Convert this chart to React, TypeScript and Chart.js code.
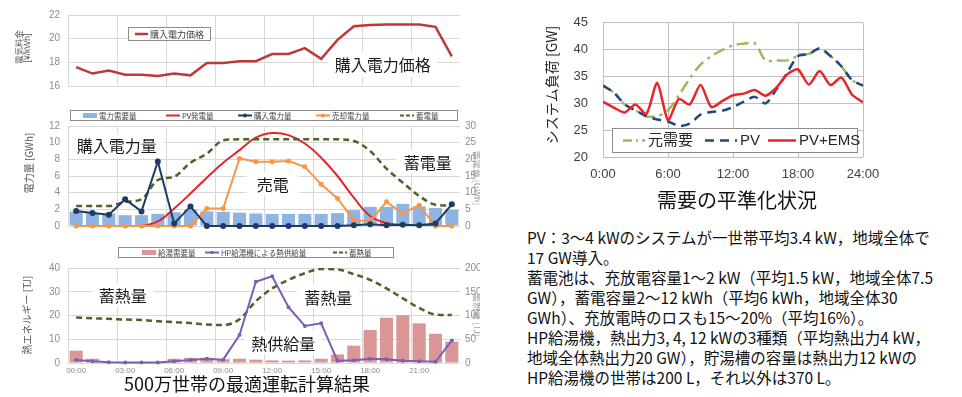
import { useEffect, useRef } from 'react';
import { Chart, registerables } from 'chart.js';
Chart.register(...registerables);

const LAT = "'Liberation Sans', Arial, 'Noto Sans CJK JP', sans-serif";
const JP = "'Noto Sans CJK JP', 'Noto Sans CJK SC', sans-serif";

// ---------- data ----------
const hours = ['00:00', '01:00', '02:00', '03:00', '04:00', '05:00', '06:00', '07:00', '08:00', '09:00', '10:00', '11:00',
  '12:00', '13:00', '14:00', '15:00', '16:00', '17:00', '18:00', '19:00', '20:00', '21:00', '22:00', '23:00'];

const priceValues = [17.6, 17.05, 17.3, 16.95, 16.95, 16.85, 17.05, 16.9, 17.95, 17.95, 18.1, 18.1, 18.7, 18.7, 19.2, 18.3, 19.9, 21.05, 21.15, 21.2, 21.2, 21.2, 21.0, 18.5];

const demandValues = [1.75, 1.6, 1.5, 1.3, 1.3, 1.45, 1.65, 1.95, 1.75, 1.7, 1.6, 1.5, 1.45, 1.45, 1.45, 1.45, 1.55, 1.9, 2.3, 2.3, 2.65, 2.35, 2.15, 1.95];
const pvValues = [0, 0, 0, 0, 0, 0.55, 2.1, 3.9, 5.8, 7.6, 9.1, 10.6, 11.15, 10.9, 9.9, 8.2, 6.0, 3.4, 1.2, 0.35, 0.1, 0, 0, 0];
const buyValues = [1.8, 1.55, 1.35, 3.2, 1.75, 7.75, 0.3, 2.35, 0, 0, 0, 0, 0, 0, 0, 0, 0, 0.1, 0.2, 0.1, 0.15, 0.1, 0.3, 2.6];
const sellValues = [0, 0, 0, 0, 0, 0, 0, 0, 2.1, 2.1, 8.1, 7.7, 7.7, 7.8, 7.1, 5.0, 3.3, 0.7, 0.6, 2.9, 1.5, 2.5, 0, 0];
const storageValues = [6, 6, 6, 7.2, 8, 13.8, 14.8, 19, 21.7, 25.7, 26, 26, 26, 26, 26, 26, 26, 25.5, 22.5, 17.2, 13, 9, 6.4, 6.1];

const hotWaterDemand = [5.2, 1.8, 0.3, 0.1, 0.1, 0.3, 1.8, 2.2, 2.2, 1.6, 1.8, 1.4, 1.1, 1.0, 1.1, 1.8, 3.6, 7.3, 13.9, 19.1, 20.1, 16.7, 12.3, 9.0];
const hpHeatSupply = [1.3, 0.7, 0.3, 0.2, 0.2, 0.2, 0.7, 1.3, 1.8, 1.4, 11.8, 34.2, 36.5, 23.5, 15.6, 16.7, 0.9, 1.2, 1.8, 1.6, 0.9, 0.7, 0.5, 9.5];
const heatStorage = [96, 94, 93, 91.5, 90.5, 88, 86, 84, 81, 80, 92, 130, 157, 175, 189, 198, 197, 187, 175, 157, 136, 116, 102, 101];

const loadHours = [0, 1, 2, 3, 4, 5, 6, 7, 8, 9, 10, 11, 12, 13, 14, 15, 16, 17, 18, 19, 20, 21, 22, 23, 24];
const originalDemand = [33.3, 32.0, 29.8, 28.7, 27.6, 27.6, 28.7, 31.5, 34.6, 37.2, 38.8, 39.9, 40.8, 41.1, 41.2, 38.0, 38.0, 38.0, 38.8, 39.2, 40.2, 38.8, 36.9, 34.3, 33.3];
const pvLoad = [33.3, 32.0, 29.8, 28.7, 27.6, 27.0, 26.6, 25.8, 26.2, 27.9, 28.4, 28.6, 29.3, 30.3, 31.2, 30.0, 32.6, 35.7, 38.8, 39.2, 40.2, 38.8, 36.9, 34.3, 33.3];
const pvEmsLoad = [30.3, 29.2, 28.3, 29.8, 28.0, 33.8, 26.9, 30.8, 29.8, 33.4, 29.3, 30.4, 31.5, 31.8, 32.5, 31.4, 32.9, 35.4, 36.3, 33.5, 36.0, 33.4, 34.8, 31.6, 30.2];

const infoLines = [
  'PV：3〜4 kWのシステムが一世帯平均3.4 kW，地域全体で',
  '17 GW導入。',
  '蓄電池は、充放電容量1〜2 kW（平均1.5 kW，地域全体7.5',
  'GW），蓄電容量2〜12 kWh（平均6 kWh，地域全体30',
  'GWh）、充放電時のロスも15〜20%（平均16%）。',
  'HP給湯機，熱出力3, 4, 12 kWの3種類（平均熱出力4 kW，',
  '地域全体熱出力20 GW），貯湯槽の容量は熱出力12 kWの',
  'HP給湯機の世帯は200 L，それ以外は370 L。',
];

// ---------- plugin ----------
const decorPlugin = {
  id: 'decor',
  afterDatasetsDraw(chart: any, _a: any, opts: any) {
    const ctx = chart.ctx;
    for (const n of opts.notes || []) {
      const px = chart.scales.x.getPixelForValue(n.x);
      const py = chart.scales[n.axis || 'y'].getPixelForValue(n.y);
      ctx.save();
      ctx.font = n.font || `16px ${JP}`;
      const w = ctx.measureText(n.text).width;
      const bw = w + (n.padX ?? 7) * 2;
      const bh = n.h ?? 24;
      ctx.fillStyle = '#fff';
      ctx.fillRect(px - bw / 2, py - bh / 2, bw, bh);
      ctx.fillStyle = '#1a1a1a';
      ctx.textAlign = 'center';
      ctx.textBaseline = 'middle';
      ctx.fillText(n.text, px, py + 1);
      ctx.restore();
    }
  },
  afterDraw(chart: any, _a: any, opts: any) {
    const ctx = chart.ctx;
    const lg = opts.legend;
    if (lg) {
      ctx.save();
      const [bx, by, bw, bh] = lg.box;
      ctx.fillStyle = '#fff';
      ctx.fillRect(bx, by, bw, bh);
      ctx.strokeStyle = lg.border || '#8c8c8c';
      ctx.lineWidth = 1;
      ctx.strokeRect(bx + 0.5, by + 0.5, bw, bh);
      const cy = by + bh / 2 + 0.5;
      ctx.font = lg.font;
      ctx.textBaseline = 'middle';
      ctx.textAlign = 'left';
      for (const it of lg.items) {
        const sw = it.sw ?? lg.sw;
        ctx.strokeStyle = it.color;
        ctx.fillStyle = it.color;
        if (it.kind === 'bar') {
          ctx.fillRect(it.x, cy - lg.barH / 2, sw, lg.barH);
        } else {
          ctx.lineWidth = it.width ?? 2;
          ctx.setLineDash(it.dash || []);
          ctx.beginPath();
          ctx.moveTo(it.x, cy);
          ctx.lineTo(it.x + sw, cy);
          ctx.stroke();
          ctx.setLineDash([]);
          if (it.marker) {
            ctx.beginPath();
            ctx.arc(it.x + sw / 2, cy, it.marker, 0, Math.PI * 2);
            ctx.fill();
          }
        }
        ctx.fillStyle = lg.textColor || '#404040';
        ctx.fillText(it.label, it.x + sw + (lg.gap ?? 2), cy + 0.5);
      }
      ctx.restore();
    }
    for (const t of opts.titles || []) {
      ctx.save();
      ctx.translate(t.x, t.y);
      ctx.rotate(t.rot || 0);
      ctx.font = t.font;
      ctx.fillStyle = t.color || '#595959';
      ctx.textAlign = 'center';
      ctx.textBaseline = 'middle';
      ctx.fillText(t.text, 0, 0);
      ctx.restore();
    }
  },
};

const every3 = (c: any) => (c.index % 3 === 0 ? '#d9d9d9' : 'rgba(0,0,0,0)');
const leftTick = { color: '#8c8c8c', font: { size: 10, family: LAT } };

// ---------- configs ----------
function priceConfig(): any {
  return {
    type: 'line',
    data: {
      labels: hours,
      datasets: [{ label: '購入電力価格', data: priceValues, borderColor: '#BE3A3A', borderWidth: 2.5, pointRadius: 0, tension: 0 }],
    },
    options: {
      responsive: false, animation: false, devicePixelRatio: 1,
      layout: { padding: { left: 0, right: 20, top: 15, bottom: 9 } },
      plugins: {
        legend: { display: false }, tooltip: { enabled: false },
        decor: {
          legend: {
            box: [128, 27, 82, 13], font: `9px ${JP}`, sw: 13, barH: 5,
            items: [{ kind: 'line', x: 135, color: '#BE3A3A', width: 2.5, label: '購入電力価格' }],
          },
          notes: [{ text: '購入電力価格', x: 18.77, y: 17.83, h: 25, padX: 6 }],
          titles: [
            { text: '電気料金', x: 19, y: 47, rot: -Math.PI / 2, font: `8.5px ${JP}` },
            { text: '[¥/kWh]', x: 28, y: 48, rot: -Math.PI / 2, font: `8.5px ${LAT}` },
          ],
        },
      },
      scales: {
        x: {
          offset: true,
          grid: { offset: true, color: every3, drawTicks: false },
          border: { display: false },
          ticks: { display: false },
          afterFit: (s: any) => { s.height = 0; },
        },
        y: {
          min: 16, max: 22,
          ticks: { stepSize: 1, padding: 8, ...leftTick },
          grid: { color: '#d9d9d9', drawTicks: false },
          border: { display: false },
          afterFit: (s: any) => { s.width = 68; },
        },
      },
    },
    plugins: [decorPlugin],
  };
}

function powerConfig(): any {
  return {
    type: 'bar',
    data: {
      labels: hours,
      datasets: [
        { type: 'bar', label: '電力需要量', data: demandValues, backgroundColor: '#8EB4E3', barPercentage: 0.8, categoryPercentage: 1, order: 10, yAxisID: 'y' },
        { type: 'line', label: 'PV発電量', data: pvValues, borderColor: '#E3262B', borderWidth: 2, pointRadius: 0, tension: 0.4, order: 4, yAxisID: 'y' },
        { type: 'line', label: '購入電力量', data: buyValues, borderColor: '#1F3A66', borderWidth: 2, pointRadius: 3, pointBackgroundColor: '#1F3A66', pointBorderWidth: 0, order: 1, yAxisID: 'y', clip: 6 },
        { type: 'line', label: '売却電力量', data: sellValues, borderColor: '#F79646', borderWidth: 2, pointRadius: 2.5, pointBackgroundColor: '#F79646', pointBorderWidth: 0, order: 2, yAxisID: 'y', clip: 6 },
        { type: 'line', label: '蓄電量', data: storageValues, borderColor: '#4F6228', borderWidth: 2.5, borderDash: [6, 4], pointRadius: 0, cubicInterpolationMode: 'monotone', order: 3, yAxisID: 'y2' },
      ],
    },
    options: {
      responsive: false, animation: false, devicePixelRatio: 1,
      layout: { padding: { left: 0, right: 0, top: 26, bottom: 9 } },
      plugins: {
        legend: { display: false }, tooltip: { enabled: false },
        decor: {
          legend: {
            box: [70, 10, 387, 10], font: `7.5px ${JP}`, sw: 14, barH: 5,
            items: [
              { kind: 'bar', x: 83, color: '#8EB4E3', label: '電力需要量' },
              { kind: 'line', x: 166, color: '#E3262B', label: 'PV発電量' },
              { kind: 'line', x: 238, color: '#1F3A66', marker: 2, label: '購入電力量' },
              { kind: 'line', x: 316, color: '#F79646', marker: 2, label: '売却電力量' },
              { kind: 'line', x: 400, color: '#4F6228', dash: [4, 2], width: 2, label: '蓄電量' },
            ],
          },
          notes: [
            { text: '購入電力量', x: 2.48, y: 9.69, h: 22 },
            { text: '売電', x: 12.03, y: 5.07, h: 23, padX: 10 },
            { text: '蓄電量', x: 21.52, y: 7.7, h: 23 },
          ],
          titles: [
            { text: '電力量 [GWh]', x: 29, y: 63, rot: -Math.PI / 2, font: `10px ${JP}` },
            { text: '蓄電量 [GWh]', x: 477, y: 78, rot: Math.PI / 2, font: `9px ${JP}`, color: '#9a9a9a' },
          ],
        },
      },
      scales: {
        x: {
          offset: true,
          grid: { offset: true, color: every3, drawTicks: false },
          border: { display: false },
          ticks: { display: false },
          afterFit: (s: any) => { s.height = 0; },
        },
        y: {
          position: 'left', min: 0, max: 12,
          ticks: { stepSize: 2, padding: 8, ...leftTick },
          grid: { color: '#d9d9d9', drawTicks: false },
          border: { display: false },
          afterFit: (s: any) => { s.width = 68; },
        },
        y2: {
          position: 'right', min: 0, max: 30,
          ticks: { stepSize: 5, padding: 5, ...leftTick },
          grid: { display: false, drawTicks: false },
          border: { display: false },
          afterFit: (s: any) => { s.width = 20; },
        },
      },
    },
    plugins: [decorPlugin],
  };
}

function heatConfig(): any {
  return {
    type: 'bar',
    data: {
      labels: hours,
      datasets: [
        { type: 'bar', label: '給湯需要量', data: hotWaterDemand, backgroundColor: '#DA9694', barPercentage: 0.8, categoryPercentage: 1, order: 10, yAxisID: 'y' },
        { type: 'line', label: 'HP給湯機による熱供給量', data: hpHeatSupply, borderColor: '#7B5FB0', borderWidth: 2, pointRadius: 2, pointBackgroundColor: '#7B5FB0', pointBorderWidth: 0, order: 1, yAxisID: 'y', clip: 6 },
        { type: 'line', label: '蓄熱量', data: heatStorage, borderColor: '#4F6228', borderWidth: 2.5, borderDash: [6, 4], pointRadius: 0, cubicInterpolationMode: 'monotone', order: 2, yAxisID: 'y2' },
      ],
    },
    options: {
      responsive: false, animation: false, devicePixelRatio: 1,
      layout: { padding: { left: 0, right: 0, top: 28, bottom: 0 } },
      plugins: {
        legend: { display: false }, tooltip: { enabled: false },
        decor: {
          legend: {
            box: [118, 7, 275, 10], font: `7.5px ${JP}`, sw: 14, barH: 5,
            items: [
              { kind: 'bar', x: 142, color: '#DA9694', label: '給湯需要量' },
              { kind: 'line', x: 205, color: '#7B5FB0', marker: 1.8, label: 'HP給湯機による熱供給量' },
              { kind: 'line', x: 333, color: '#4F6228', dash: [4, 2], width: 2, label: '蓄熱量' },
            ],
          },
          notes: [
            { text: '蓄熱量', x: 2.85, y: 28.7, h: 24 },
            { text: '蓄熱量', x: 15.43, y: 28.0, h: 24 },
            { text: '熱供給量', x: 12.68, y: 8.56, h: 23 },
          ],
          titles: [
            { text: '熱エネルギー [TJ]', x: 27, y: 75, rot: -Math.PI / 2, font: `10px ${JP}` },
            { text: '蓄熱量 [TJ]', x: 477, y: 75, rot: Math.PI / 2, font: `9px ${JP}`, color: '#9a9a9a' },
          ],
        },
      },
      scales: {
        x: {
          offset: true,
          grid: { offset: true, color: every3, drawTicks: false },
          border: { display: false },
          ticks: {
            autoSkip: false, maxRotation: 0, padding: 3,
            color: '#8c8c8c', font: { size: 8, family: LAT },
            callback: (_v: any, i: number) => (i % 3 === 0 ? hours[i] : ''),
          },
          afterFit: (s: any) => { s.height = 17; },
        },
        y: {
          position: 'left', min: 0, max: 40,
          ticks: { stepSize: 10, padding: 8, ...leftTick },
          grid: { color: '#d9d9d9', drawTicks: false },
          border: { display: false },
          afterFit: (s: any) => { s.width = 68; },
        },
        y2: {
          position: 'right', min: 0, max: 200,
          ticks: { stepSize: 50, padding: 5, ...leftTick },
          grid: { display: false, drawTicks: false },
          border: { display: false },
          afterFit: (s: any) => { s.width = 20; },
        },
      },
    },
    plugins: [decorPlugin],
  };
}

function loadConfig(): any {
  const pts = (arr: number[]) => loadHours.map((h, i) => ({ x: h, y: arr[i] }));
  return {
    type: 'line',
    data: {
      datasets: [
        { label: '元需要', data: pts(originalDemand), borderColor: '#9BBB59', borderWidth: 2.5, borderDash: [12, 5, 3, 5], pointRadius: 0, tension: 0.3, order: 3 },
        { label: 'PV', data: pts(pvLoad), borderColor: '#1F497D', borderWidth: 2.5, borderDash: [9, 6], pointRadius: 0, tension: 0.3, order: 2 },
        { label: 'PV+EMS', data: pts(pvEmsLoad), borderColor: '#E8262A', borderWidth: 2.5, pointRadius: 0, tension: 0.25, order: 1 },
      ],
    },
    options: {
      responsive: false, animation: false, devicePixelRatio: 1,
      layout: { padding: { left: 0, right: 37, top: 10, bottom: 0 } },
      plugins: {
        legend: { display: false }, tooltip: { enabled: false },
        decor: {
          legend: {
            box: [92, 128, 245, 24], font: `15px ${LAT}`, sw: 22, barH: 5, gap: 3, textColor: '#262626',
            items: [
              { kind: 'line', x: 103, sw: 22, color: '#9BBB59', dash: [9, 4, 2, 4], width: 2.5, label: '元需要' },
              { kind: 'line', x: 185, sw: 32, color: '#1F497D', dash: [9, 6], width: 2.5, label: 'PV' },
              { kind: 'line', x: 248, sw: 28, color: '#E8262A', width: 2.5, label: 'PV+EMS' },
            ],
          },
          titles: [
            { text: 'システム負荷 [GW]', x: 32, y: 85, rot: -Math.PI / 2, font: `14px ${JP}`, color: '#262626' },
          ],
        },
      },
      scales: {
        x: {
          type: 'linear', min: 0, max: 24,
          ticks: { stepSize: 6, padding: 10, color: '#404040', font: { size: 13, family: LAT }, callback: (v: any) => `${v}:00` },
          grid: { color: '#bfbfbf', drawTicks: false },
          border: { display: false },
          afterFit: (s: any) => { s.height = 33; },
        },
        y: {
          min: 20, max: 45,
          ticks: { stepSize: 5, padding: 15, color: '#404040', font: { size: 13, family: LAT } },
          grid: { color: '#bfbfbf', drawTicks: false },
          border: { display: false },
          afterFit: (s: any) => { s.width = 83; },
        },
      },
    },
    plugins: [decorPlugin],
  };
}

function ChartBox({ make, left, top, width, height }: { make: () => any; left: number; top: number; width: number; height: number }) {
  const ref = useRef<HTMLCanvasElement>(null);
  useEffect(() => {
    const chart = new Chart(ref.current as HTMLCanvasElement, make());
    return () => chart.destroy();
  }, []);
  return <canvas ref={ref} width={width} height={height} style={{ position: 'absolute', left, top, width, height }} />;
}

export default function App() {
  useEffect(() => {
    document.body.style.margin = '0';
  }, []);
  return (
    <div style={{ position: 'absolute', left: 0, top: 0, width: 962, height: 397, background: '#fff', overflow: 'hidden', fontFamily: JP }}>
      <ChartBox make={priceConfig} left={0} top={0} width={480} height={100} />
      <ChartBox make={powerConfig} left={0} top={100} width={480} height={140} />
      <ChartBox make={heatConfig} left={0} top={240} width={480} height={140} />
      <ChartBox make={loadConfig} left={520} top={0} width={380} height={190} />
      <div style={{ position: 'absolute', left: 247, top: 373, transform: 'translateX(-50%)', fontSize: 18, lineHeight: '20px', whiteSpace: 'nowrap', color: '#111', background: '#fff', padding: '0 4px' }}>
        500万世帯の最適運転計算結果
      </div>
      <div style={{ position: 'absolute', left: 737, top: 189, transform: 'translateX(-50%)', fontSize: 20, lineHeight: '22px', whiteSpace: 'nowrap', color: '#111', background: '#fff', padding: '0 8px' }}>
        需要の平準化状況
      </div>
      <div style={{ position: 'absolute', left: 527, top: 227, fontSize: 15.5, lineHeight: '20px', color: '#111' }}>
        {infoLines.map((l, i) => (
          <div key={i} style={{ whiteSpace: 'nowrap' }}>{l}</div>
        ))}
      </div>
    </div>
  );
}
